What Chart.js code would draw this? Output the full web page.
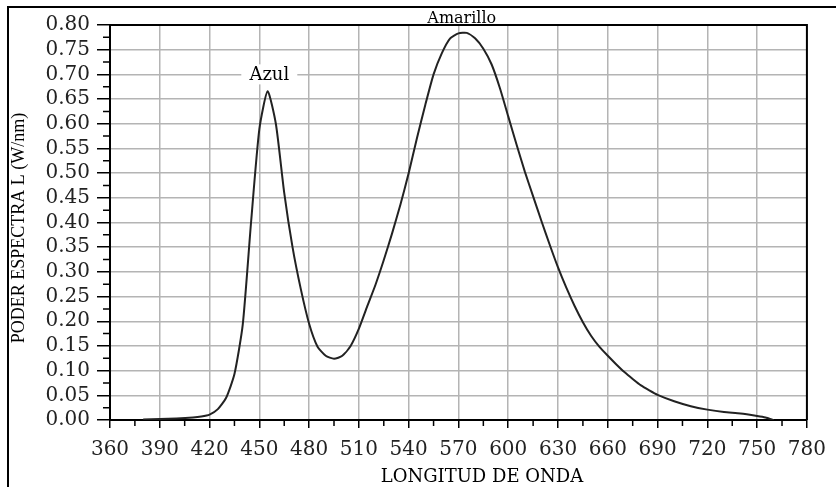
<!DOCTYPE html>
<html>
<head>
<meta charset="utf-8">
<script src="https://cdn.jsdelivr.net/npm/chart.js@4.4.1/dist/chart.umd.min.js"></script>
<style>
  body { margin: 0; background: #fff; }
  canvas { display: block; }
</style>
</head>
<body>
<canvas id="chart" width="836" height="487"></canvas>
<script>
// wavelength (nm) and spectral power (W/nm)
const wavelengths = [380, 390, 400, 410, 415, 420, 425, 430, 435, 440, 445, 450, 455, 460, 465, 470, 475, 480, 485, 490,
  495, 500, 505, 510, 515, 520, 525, 530, 535, 540, 545, 550, 555, 560, 565, 570, 575, 580, 585, 590,
  595, 600, 605, 610, 615, 620, 625, 630, 635, 640, 645, 650, 655, 660, 665, 670, 675, 680, 685, 690,
  700, 710, 720, 730, 740, 750, 755, 760];
const power = [0.001, 0.002, 0.003, 0.005, 0.007, 0.011, 0.022, 0.045, 0.093, 0.193, 0.40, 0.589, 0.666, 0.599, 0.46, 0.35, 0.265, 0.195, 0.149, 0.13,
  0.124, 0.13, 0.15, 0.185, 0.23, 0.274, 0.324, 0.378, 0.436, 0.50, 0.571, 0.638, 0.70, 0.743, 0.773, 0.783, 0.784, 0.773, 0.752, 0.72,
  0.672, 0.615, 0.558, 0.503, 0.453, 0.403, 0.355, 0.309, 0.268, 0.231, 0.198, 0.17, 0.148, 0.13, 0.113, 0.097, 0.083, 0.07, 0.06, 0.051,
  0.038, 0.028, 0.021, 0.016, 0.013, 0.008, 0.005, 0.0];

const xTickStep = 30;
const yTickStep = 0.05;
const peakLabels = [
  { text: "Azul", x: 456, y: 0.70, box: true },
  { text: "Amarillo", x: 572, y: null, box: false }
];

const points = wavelengths.map((w, i) => ({ x: w, y: power[i] }));

const decor = {
  id: "decor",
  beforeDraw(chart) {
    const ctx = chart.ctx;
    ctx.save();
    ctx.fillStyle = "#fff";
    ctx.fillRect(0, 0, chart.width, chart.height);
    ctx.restore();
  },
  afterDatasetsDraw(chart) {
    const ctx = chart.ctx;
    const { left, right, top, bottom } = chart.chartArea;
    const xs = chart.scales.x, ys = chart.scales.y;
    ctx.save();
    ctx.strokeStyle = "#000";

    // plot frame (top + right)
    ctx.lineWidth = 2;
    ctx.beginPath();
    ctx.moveTo(left, top); ctx.lineTo(right, top); ctx.lineTo(right, bottom);
    ctx.stroke();

    // minor ticks
    ctx.lineWidth = 1.5;
    ctx.beginPath();
    for (let v = xs.min + xTickStep / 2; v < xs.max; v += xTickStep) {
      const px = xs.getPixelForValue(v);
      ctx.moveTo(px, bottom); ctx.lineTo(px, bottom + 6);
    }
    for (let v = yTickStep / 2; v < ys.max; v += yTickStep) {
      const py = ys.getPixelForValue(v);
      ctx.moveTo(left - 7, py); ctx.lineTo(left, py);
    }
    ctx.stroke();

    // outer frame
    ctx.lineWidth = 2;
    ctx.beginPath();
    ctx.moveTo(8, chart.height); ctx.lineTo(8, 7); ctx.lineTo(chart.width, 7);
    ctx.stroke();

    // peak labels
    ctx.fillStyle = "#000";
    ctx.textAlign = "center";
    peakLabels.forEach(p => {
      const px = xs.getPixelForValue(p.x);
      if (p.box) {
        const py = ys.getPixelForValue(p.y);
        ctx.fillStyle = "#fff";
        ctx.fillRect(px - 28, py - 10, 56, 20);
        ctx.fillStyle = "#000";
        ctx.font = "18px 'DejaVu Serif'";
        ctx.textBaseline = "alphabetic";
        ctx.fillText(p.text, px, py + 6);
      } else {
        ctx.font = "16px 'DejaVu Serif'";
        ctx.textBaseline = "alphabetic";
        ctx.fillText(p.text, px, top - 2);
      }
    });

    // axis titles
    ctx.font = "18px 'DejaVu Serif'";
    ctx.textBaseline = "middle";
    ctx.fillText("LONGITUD DE ONDA", 482, 477);
    ctx.save();
    ctx.translate(19, 228);
    ctx.rotate(-Math.PI / 2);
    ctx.font = "18px 'Liberation Serif'";
    ctx.fillText("PODER ESPECTRA L (W/nm)", 0, 0);
    ctx.restore();

    ctx.restore();
  }
};

new Chart(document.getElementById("chart").getContext("2d"), {
  type: "line",
  data: {
    datasets: [{
      data: points,
      borderColor: "#222",
      borderWidth: 2,
      pointRadius: 0,
      fill: false,
      tension: 0.2
    }]
  },
  options: {
    responsive: false,
    animation: false,
    layout: { padding: { left: 0, top: 25, right: 21, bottom: 0 } },
    plugins: { legend: { display: false }, tooltip: { enabled: false } },
    scales: {
      x: {
        type: "linear",
        min: 360,
        max: 780,
        afterFit: s => { s.height = 67; },
        ticks: { stepSize: xTickStep, color: "#222", padding: 10, maxRotation: 0, autoSkip: false,
          font: { family: "DejaVu Serif", size: 20 } },
        grid: { color: "#b4b4b4", lineWidth: 1.5, tickLength: 8, tickColor: "#000", tickWidth: 1.5 },
        border: { color: "#000", width: 2 }
      },
      y: {
        min: 0,
        max: 0.8,
        afterFit: s => { s.width = 110; },
        ticks: { stepSize: yTickStep, color: "#222", padding: 7, autoSkip: false,
          callback: v => v.toFixed(2),
          font: { family: "DejaVu Serif", size: 20 } },
        grid: { color: "#b4b4b4", lineWidth: 1.5, tickLength: 13, tickColor: "#000", tickWidth: 1.5 },
        border: { color: "#000", width: 2 }
      }
    }
  },
  plugins: [decor]
});
</script>
</body>
</html>
